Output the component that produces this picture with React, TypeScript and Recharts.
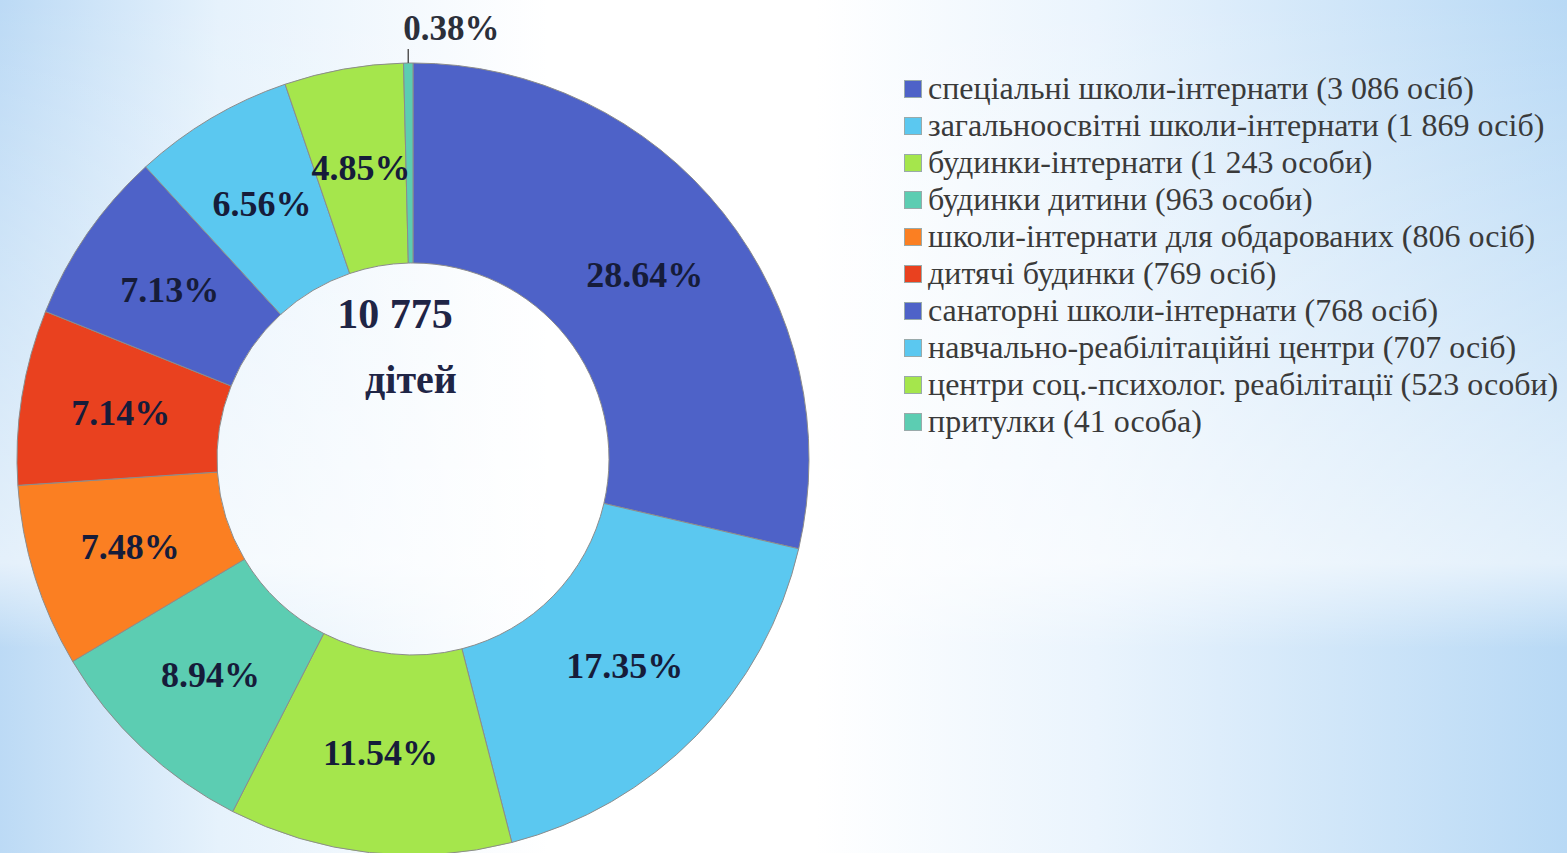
import { PieChart, Pie, Cell, Legend } from 'recharts'

const categories = [
  'спеціальні школи-інтернати (3 086 осіб)',
  'загальноосвітні школи-інтернати (1 869 осіб)',
  'будинки-інтернати (1 243 особи)',
  'будинки дитини (963 особи)',
  'школи-інтернати для обдарованих (806 осіб)',
  'дитячі будинки (769 осіб)',
  'санаторні школи-інтернати (768 осіб)',
  'навчально-реабілітаційні центри (707 осіб)',
  'центри соц.-психолог. реабілітації (523 особи)',
  'притулки (41 особа)',
]
const counts = [3086, 1869, 1243, 963, 806, 769, 768, 707, 523, 41]
const pctLabels = ['28.64%', '17.35%', '11.54%', '8.94%', '7.48%', '7.14%', '7.13%', '6.56%', '4.85%', '0.38%']
const colors = ['#4e62c8', '#5bc8f0', '#a5e64c', '#5ccdb2', '#fb7f22', '#e9411f', '#4e62c8', '#5bc8f0', '#a5e64c', '#5ccdb2']

const data = categories.map((name, i) => ({ name, value: counts[i], pct: pctLabels[i] }))

const RAD = Math.PI / 180
const serif = 'Liberation Serif'

function renderLabel(props: any) {
  const { cx, cy, midAngle, innerRadius, outerRadius, index } = props
  if (index === data.length - 1) {
    const x0 = cx + outerRadius * Math.cos(-midAngle * RAD)
    const y0 = cy + outerRadius * Math.sin(-midAngle * RAD)
    return (
      <g>
        <line x1={x0} y1={y0} x2={x0} y2={y0 - 14} stroke="#555" strokeWidth={1.5} />
        <text x={x0 - 5} y={y0 - 31} textAnchor="start" dominantBaseline="middle"
          fontFamily={serif} fontWeight="bold" fontSize={35} fill="#2b2f3a">
          {data[index].pct}
        </text>
      </g>
    )
  }
  const r = (innerRadius + outerRadius) / 2
  const x = cx + r * Math.cos(-midAngle * RAD)
  const y = cy + r * Math.sin(-midAngle * RAD)
  return (
    <text x={x} y={y} textAnchor="middle" dominantBaseline="central"
      fontFamily={serif} fontWeight="bold" fontSize={36} fill="#161c3a">
      {data[index].pct}
    </text>
  )
}

function LegendContent() {
  return (
    <div style={{ fontFamily: serif, fontSize: 32, color: '#3a3a3a' }}>
      {data.map((d, i) => (
        <div key={d.name} style={{ display: 'flex', alignItems: 'center', height: 37, lineHeight: '37px', whiteSpace: 'nowrap' }}>
          <span style={{ display: 'inline-block', width: 18, height: 18, background: colors[i], border: '1px solid #9aa', marginRight: 6, boxSizing: 'border-box' }} />
          <span>{d.name}</span>
        </div>
      ))}
    </div>
  )
}

export default function App() {
  return (
    <div
      style={{
        position: 'fixed', left: 0, top: 0, width: 1567, height: 853, overflow: 'hidden',
        background:
          'linear-gradient(180deg, rgba(255,255,255,0) 0%, rgba(255,255,255,0.6) 66%, rgba(255,255,255,0) 76%), linear-gradient(90deg, #bcdaf5 0%, #e6f2fc 14%, #ffffff 35%, #ffffff 52%, #eaf4fd 70%, #b8d9f5 100%)',
      }}
    >
      <PieChart width={1567} height={853}>
        <Pie
          data={data}
          dataKey="value"
          nameKey="name"
          cx={408}
          cy={454}
          innerRadius={196}
          outerRadius={396}
          startAngle={90}
          endAngle={-270}
          stroke="#8c8c8c"
          strokeWidth={1}
          label={renderLabel}
          labelLine={false}
          isAnimationActive={false}
        >
          {data.map((d, i) => (
            <Cell key={d.name} fill={colors[i]} />
          ))}
        </Pie>
        <Legend
          layout="vertical"
          verticalAlign="top"
          align="right"
          content={<LegendContent />}
          wrapperStyle={{ left: 904, top: 70, width: 663 }}
        />
      </PieChart>
      <div style={{ position: 'absolute', left: 0, width: 790, top: 290, textAlign: 'center', fontFamily: serif, fontWeight: 'bold', fontSize: 42, color: '#1f2546' }}>
        10 775
      </div>
      <div style={{ position: 'absolute', left: 0, width: 822, top: 356, textAlign: 'center', fontFamily: serif, fontWeight: 'bold', fontSize: 40, color: '#1f2546' }}>
        дітей
      </div>
    </div>
  )
}
